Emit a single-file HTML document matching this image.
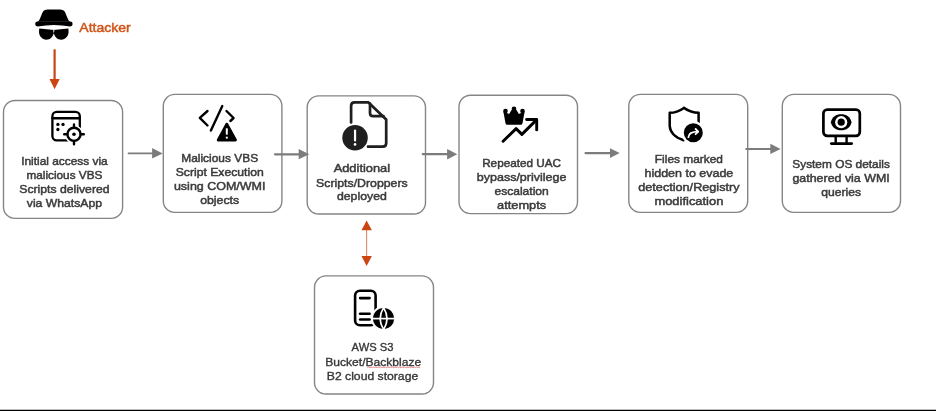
<!DOCTYPE html>
<html><head><meta charset="utf-8">
<style>
html,body{margin:0;padding:0;background:#fff;width:936px;height:411px;overflow:hidden}
svg{position:absolute;left:0;top:0;display:block;will-change:transform;filter:blur(0.25px)}
.t{font-family:"Liberation Sans",sans-serif;font-weight:normal;font-size:11.8px;fill:#3b3b3b;stroke:#3b3b3b;stroke-width:0.5px}
.r{font-family:"Liberation Sans",sans-serif;font-weight:normal;font-size:11.8px;fill:#363636;stroke:#363636;stroke-width:0.35px}
</style></head><body>
<svg width="936" height="411" viewBox="0 0 936 411">
<!-- boxes -->
<g fill="none" stroke="#858585" stroke-width="1.4">
<rect x="3.5" y="100.5" width="119.1" height="117.9" rx="11.5"/>
<rect x="163.3" y="94.4" width="118.6" height="118" rx="11.5"/>
<rect x="307.2" y="95.9" width="118.3" height="118.1" rx="11.5"/>
<rect x="459" y="95.2" width="118.5" height="118.4" rx="11.5"/>
<rect x="628.8" y="94.4" width="118.9" height="118" rx="11.5"/>
<rect x="782.3" y="94.4" width="118.2" height="118" rx="11.5"/>
<rect x="314.5" y="275.9" width="119" height="118.1" rx="11.5"/>
</g>
<!-- gray arrows -->
<g stroke="#7c7c7c" stroke-width="2.1" fill="#7c7c7c" stroke-linecap="round">
<line x1="128.5" y1="153.4" x2="153" y2="153.4" stroke-width="1.7"/>
<polygon stroke="none" points="152.1,148 162.7,153.4 152.1,158.6"/>
<line x1="275" y1="154.3" x2="299" y2="154.3" stroke-width="2.2"/>
<polygon stroke="none" points="298.7,149 309.2,154.2 298.7,159.3"/>
<line x1="422.8" y1="154.2" x2="447.5" y2="154.2" stroke-width="2.2"/>
<polygon stroke="none" points="447.1,149.1 457.3,154.2 447.1,159.6"/>
<line x1="585.5" y1="153.1" x2="610.5" y2="153.1"/>
<polygon stroke="none" points="610,148.2 619.7,153.1 610,158"/>
<line x1="746.3" y1="149" x2="770.8" y2="149"/>
<polygon stroke="none" points="770.3,143.7 780.6,149 770.3,154"/>
</g>
<!-- orange arrows -->
<g fill="#CC4412" stroke="#CC4412">
<line x1="54.6" y1="49.3" x2="54.6" y2="80" stroke-width="2.2"/>
<polygon stroke="none" points="49.5,79 59.7,79 54.6,89.3"/>
<line x1="366.6" y1="229" x2="366.6" y2="257" stroke-width="1.1" stroke="#E08A6A"/>
<polygon stroke="none" points="361.5,230.3 371.9,230.3 366.6,220.5"/>
<polygon stroke="none" points="361.5,256 371.9,256 366.6,265.9"/>
</g>
<!-- attacker icon -->
<g fill="#000">
<path d="M47.8 9.5 L59.8 9.5 Q63.9 9.5 65.3 12.8 L67.9 19 Q68.9 21.7 70.5 21.7 L37.2 21.7 Q38.8 21.7 39.8 19 L42.4 12.8 Q43.8 9.5 47.8 9.5 Z"/>
<path d="M37.6 21.5 L70.2 21.5 A2.45 2.45 0 0 1 70.2 26.4 Q54 23.4 37.6 26.4 A2.45 2.45 0 0 1 37.6 21.5 Z"/>
<path d="M39.2 28.5 L54.3 30 L54.3 31.3 C53 37.6 50 39.7 46.4 39.7 C42 39.7 39.2 36 39.0 32 Z M68.4 28.5 L53.3 30 L53.3 31.3 C54.6 37.6 57.6 39.7 61.2 39.7 C65.6 39.7 68.4 36 68.6 32 Z"/>
</g>
<text class="t" x="105.05" y="32.3" text-anchor="middle" textLength="51.5" lengthAdjust="spacingAndGlyphs" style="font-size:13.7px;font-weight:normal;fill:#D0561C;stroke:#D0561C;stroke-width:0.5px">Attacker</text>
<!-- icon 1 -->
<g fill="none" stroke="#000" stroke-width="2.3" stroke-linecap="round">
<rect x="52.4" y="111.8" width="27.4" height="28.6" rx="4.4"/>
<line x1="52.4" y1="118.25" x2="79.8" y2="118.25"/>
</g>
<circle cx="74" cy="134.3" r="9.3" fill="#fff"/>
<g fill="#000"><circle cx="57.9" cy="124.4" r="1.65"/><circle cx="63" cy="124.4" r="1.65"/><circle cx="57.9" cy="129.5" r="1.65"/><circle cx="74" cy="134.3" r="1.8"/></g>
<g fill="none" stroke="#000" stroke-width="2.4" stroke-linecap="round">
<circle cx="74" cy="134.3" r="6.6"/>
<path d="M74 124.5 V127.5 M74 141 V144.2 M64.2 134.3 H67.3 M80.7 134.3 H83.8"/>
</g>
<!-- icon 2 -->
<g fill="none" stroke="#000" stroke-width="2.4" stroke-linecap="round" stroke-linejoin="round">
<polyline points="207.5,111 199.8,117.8 207.5,125.5"/>
<line x1="222.3" y1="106" x2="210.9" y2="130.6"/>
<polyline points="226.5,111 233.6,118 230.4,121"/>
</g>
<path d="M226.8 124.5 L235.3 139.9 L218.4 139.9 Z" fill="#000" stroke="#fff" stroke-width="6.4" stroke-linejoin="round"/>
<path d="M226.8 124.5 L235.3 139.9 L218.4 139.9 Z" fill="#000" stroke="#000" stroke-width="3.2" stroke-linejoin="round"/>
<g stroke="#fff" stroke-width="2" stroke-linecap="butt"><line x1="226.8" y1="128.3" x2="226.8" y2="134.6"/></g>
<rect x="225.8" y="136.7" width="2" height="1.9" fill="#fff"/>
<!-- icon 3 -->
<g fill="none" stroke="#1f1f1f" stroke-width="2.7" stroke-linejoin="round" stroke-linecap="round">
<path d="M351.1 122.5 V106 Q351.1 102.45 354.6 102.45 H368.5 L386.2 119.5 V143.2 Q386.2 146.7 382.7 146.7 H368"/>
<path d="M370 103.5 V113 Q370 116.2 373.2 116.2 H383.5"/>
</g>
<circle cx="355.05" cy="137.7" r="12.75" fill="#1f1f1f"/>
<g stroke="#fff" stroke-width="2.2" stroke-linecap="round"><line x1="355.05" y1="130.5" x2="355.05" y2="140.5"/></g>
<circle cx="355.05" cy="144.4" r="1.35" fill="#fff"/>
<!-- icon 4 -->
<g fill="#000">
<circle cx="505.5" cy="111" r="2.3"/><circle cx="514" cy="108.8" r="2.3"/><circle cx="522.5" cy="111" r="2.3"/>
<path d="M503.3 111.2 L505.5 123.2 Q505.8 124.7 507.4 124.7 L520.6 124.7 Q522.2 124.7 522.5 123.2 L524.7 111.2 L518.9 114 L516.3 109.8 L511.7 109.8 L509.1 114 Z"/>
</g>
<g fill="none" stroke="#000" stroke-width="2.9" stroke-linecap="round" stroke-linejoin="round">
<polyline points="503.1,141.3 516.1,128.6 521.9,134.4 536,120.4"/>
<polyline points="526.6,119.5 536.7,119.5 536.7,129.9"/>
</g>
<!-- icon 5 -->
<path d="M683.9 107.9 Q677 112.8 669.7 112.8 V126 Q670.5 136 683.6 140.2 M683.9 107.9 Q691 112.8 698.6 112.8 V123" fill="none" stroke="#000" stroke-width="2.5" stroke-linecap="round" stroke-linejoin="round"/>
<circle cx="693.3" cy="132.7" r="11.8" fill="#fff"/>
<circle cx="693.3" cy="132.7" r="9.5" fill="#000"/>
<g fill="none" stroke="#fff" stroke-width="1.8" stroke-linecap="round" stroke-linejoin="round">
<path d="M688.4 137.2 Q688.8 131.6 698 131.6"/>
<polyline points="695.6,129 698.2,131.6 695.6,134.2"/>
</g>
<!-- icon 6 -->
<g fill="none" stroke="#000" stroke-width="2.7" stroke-linecap="round">
<rect x="823.4" y="109.7" width="36.4" height="26.1" rx="3.8"/>
<line x1="835.7" y1="136.5" x2="835.7" y2="142.8" stroke-width="2.4"/>
<line x1="846.6" y1="136.5" x2="846.6" y2="142.8" stroke-width="2.4"/>
<line x1="831.3" y1="143.6" x2="851.7" y2="143.6"/>
</g>
<path d="M830.9 122.2 C832 116.6 836.2 114.2 841.2 114.2 C846.2 114.2 850.4 116.6 851.5 122.2 C850.4 127.8 846.2 130.2 841.2 130.2 C836.2 130.2 832 127.8 830.9 122.2 Z" fill="#000"/>
<circle cx="841.2" cy="122.2" r="6.1" fill="#fff"/>
<circle cx="841.2" cy="122.2" r="3.6" fill="#000"/>
<!-- icon 7 -->
<g fill="none" stroke="#000" stroke-width="2.6" stroke-linecap="round">
<rect x="355.1" y="290.7" width="20.5" height="34.6" rx="4.8"/>
<line x1="360.1" y1="298.1" x2="369.6" y2="298.1"/>
<line x1="360.1" y1="313.7" x2="369.6" y2="313.7"/>
<line x1="360.1" y1="319.5" x2="369.6" y2="319.5"/>
</g>
<circle cx="383.6" cy="318.6" r="12.6" fill="#fff"/>
<circle cx="383.6" cy="318.6" r="10.6" fill="#000"/>
<g fill="none" stroke="#fff" stroke-width="1.7">
<line x1="372" y1="318.6" x2="395" y2="318.6"/>
<path d="M383.6 307.6 Q376.8 318.6 383.6 329.6 Q390.4 318.6 383.6 307.6 Z"/>
</g>
<!-- texts -->
<g class="t" text-anchor="middle" lengthAdjust="spacingAndGlyphs">
<text x="64.4" y="164.9" textLength="86.5" lengthAdjust="spacingAndGlyphs">Initial access via</text>
<text x="64.4" y="179" textLength="76" lengthAdjust="spacingAndGlyphs">malicious VBS</text>
<text x="64.4" y="193.3" textLength="90.3" lengthAdjust="spacingAndGlyphs">Scripts delivered</text>
<text x="64.4" y="207" textLength="75.2" lengthAdjust="spacingAndGlyphs">via WhatsApp</text>

<text x="219.7" y="162.1" textLength="76.9" lengthAdjust="spacingAndGlyphs">Malicious VBS</text>
<text x="219.7" y="176.2" textLength="88" lengthAdjust="spacingAndGlyphs">Script Execution</text>
<text x="219.7" y="190.1" textLength="91.5" lengthAdjust="spacingAndGlyphs">using COM/WMI</text>
<text x="219.7" y="203.8" textLength="39" lengthAdjust="spacingAndGlyphs">objects</text>

<text x="361.9" y="172.1" textLength="56.5" lengthAdjust="spacingAndGlyphs">Additional</text>
<text x="361.9" y="186.5" textLength="91.6" lengthAdjust="spacingAndGlyphs">Scripts/Droppers</text>
<text x="361.9" y="199.8" textLength="49.9" lengthAdjust="spacingAndGlyphs">deployed</text>

<text x="521.6" y="167.1" textLength="78.9" lengthAdjust="spacingAndGlyphs">Repeated UAC</text>
<text x="521.6" y="180.8" textLength="89.6" lengthAdjust="spacingAndGlyphs">bypass/privilege</text>
<text x="521.6" y="195" textLength="54.3" lengthAdjust="spacingAndGlyphs">escalation</text>
<text x="521.6" y="208.5" textLength="49.2" lengthAdjust="spacingAndGlyphs">attempts</text>

<text x="688.9" y="162.8" textLength="68.1" lengthAdjust="spacingAndGlyphs">Files marked</text>
<text x="688.9" y="176.9" textLength="88.8" lengthAdjust="spacingAndGlyphs">hidden to evade</text>
<text x="688.9" y="191" textLength="101.3" lengthAdjust="spacingAndGlyphs">detection/Registry</text>
<text x="688.9" y="205.1" textLength="68.9" lengthAdjust="spacingAndGlyphs">modification</text>

<text x="841.1" y="168.1" textLength="97.6" lengthAdjust="spacingAndGlyphs">System OS details</text>
<text x="841.1" y="182.1" textLength="97.3" lengthAdjust="spacingAndGlyphs">gathered via WMI</text>
<text x="841.1" y="196.2" textLength="39.8" lengthAdjust="spacingAndGlyphs">queries</text>
</g>
<g class="r" text-anchor="middle">
<text x="372.5" y="351.2" textLength="41.8" lengthAdjust="spacingAndGlyphs">AWS S3</text>
<text x="373.25" y="365.7" textLength="95.9" lengthAdjust="spacingAndGlyphs">Bucket/Backblaze</text>
<text x="372.5" y="379.6" textLength="91.4" lengthAdjust="spacingAndGlyphs">B2 cloud storage</text>
</g>
<!-- squiggle -->
<path d="M367.4 367.6 l1.2 -0.6 l1.2 0.6 l1.2 -0.6 l1.2 0.6 l1.2 -0.6 l1.2 0.6 l1.2 -0.6 l1.2 0.6 l1.2 -0.6 l1.2 0.6 l1.2 -0.6 l1.2 0.6 l1.2 -0.6 l1.2 0.6 l1.2 -0.6 l1.2 0.6 l1.2 -0.6 l1.2 0.6 l1.2 -0.6 l1.2 0.6 l1.2 -0.6 l1.2 0.6 l1.2 -0.6 l1.2 0.6 l1.2 -0.6 l1.2 0.6 l1.2 -0.6 l1.2 0.6 l1.2 -0.6 l1.2 0.6 l1.2 -0.6 l1.2 0.6 l1.2 -0.6 l1.2 0.6 l1.2 -0.6 l1.2 0.6 l1.2 -0.6 l1.2 0.6 l1.2 -0.6 l1.2 0.6 l1.2 -0.6 l1.2 0.6 l1.2 -0.6 l1.2 0.6" fill="none" stroke="#E27C7C" stroke-width="0.9"/>
<!-- bottom bar -->
<rect x="0" y="409.75" width="936" height="1.25" fill="#000"/>
</svg>
</body></html>
